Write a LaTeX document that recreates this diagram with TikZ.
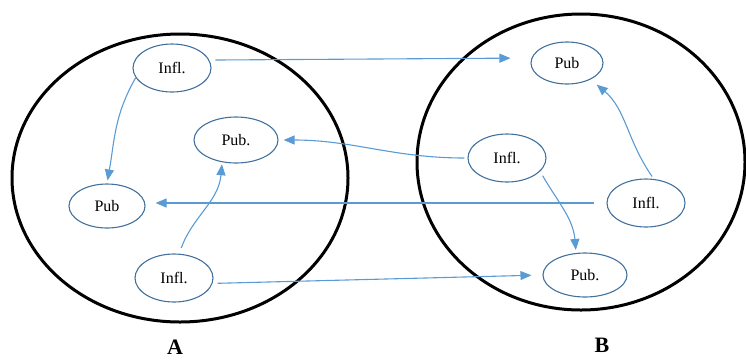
\documentclass[tikz,border=0pt]{standalone}
\usepackage{fontspec}
\setmainfont{Liberation Serif}
\usepackage{xcolor}
\usetikzlibrary{arrows.meta}
\usetikzlibrary{shapes.geometric}
\definecolor{linkblue}{RGB}{91,155,213}
\definecolor{rimblue}{RGB}{65,113,156}

\begin{document}
\begin{tikzpicture}[x=1pt,y=-1pt,
  group/.style={ellipse,draw=black,line width=3pt,inner sep=0pt},
  actor/.style={ellipse,draw=rimblue,line width=1.1pt,inner sep=0pt,
    minimum width=78pt,minimum height=48pt,font=\fontsize{16}{18}\selectfont},
  link/.style={-{Triangle[length=11pt,width=9pt]},draw=linkblue,line width=1.1pt},
  tag/.style={font=\bfseries\fontsize{22}{24}\selectfont,anchor=base}]
  \useasboundingbox (0,0) rectangle (746,360);

  % the two communities
  \node[group,minimum width=336pt,minimum height=288pt] (A) at (180,178) {};
  \node[group,minimum width=328pt,minimum height=296pt] (B) at (581,162) {};

  % community A
  \node[actor] (inf-a-1) at (172,68) {Infl.};
  \node[actor,minimum width=84pt,minimum height=46pt] (pub-a-1) at (236,140) {Pub.};
  \node[actor,minimum width=76pt,minimum height=44pt] (pub-a-2) at (107,206) {Pub};
  \node[actor] (inf-a-2) at (174,278) {Infl.};

  % community B
  \node[actor,minimum width=72pt,minimum height=42pt] (pub-b-1) at (567,63) {Pub};
  \node[actor] (inf-b-1) at (507,158) {Infl.};
  \node[actor] (inf-b-2) at (646,203) {Infl.};
  \node[actor,minimum width=84pt,minimum height=44pt] (pub-b-2) at (585,275) {Pub.};

  \node[tag] (lab-a) at (175,354) {A};
  \node[tag] (lab-b) at (602,352) {B};

  % links between the communities
  \path (inf-a-1.12) edge[link,shorten <=6pt,shorten >=21pt] (pub-b-1.172);
  \path (inf-b-1.west) edge[link,shorten <=3pt,shorten >=5pt,out=180,in=0] (pub-a-1.east);
  \path (inf-b-2.west) edge[link,shorten <=12pt,shorten >=10pt] (inf-b-2.west -| pub-a-2.east);
  \path (inf-a-2.-8) edge[link,shorten <=5pt,shorten >=11pt] (pub-b-2.west);

  % links inside the communities
  \path (inf-a-1.195) edge[link,shorten >=3pt,out=240,in=80] (pub-a-2.north);
  \path (inf-a-2.78) edge[link,shorten <=6pt,shorten >=2pt,out=70,in=265] (pub-a-1.238);
  \path (inf-b-1.-22) edge[link,shorten <=5pt,shorten >=3pt,out=-60,in=95] (pub-b-2.112);
  \path (inf-b-2.72) edge[link,shorten <=3pt,shorten >=8pt,out=125,in=-40] (pub-b-1.-35);
\end{tikzpicture}
\end{document}
